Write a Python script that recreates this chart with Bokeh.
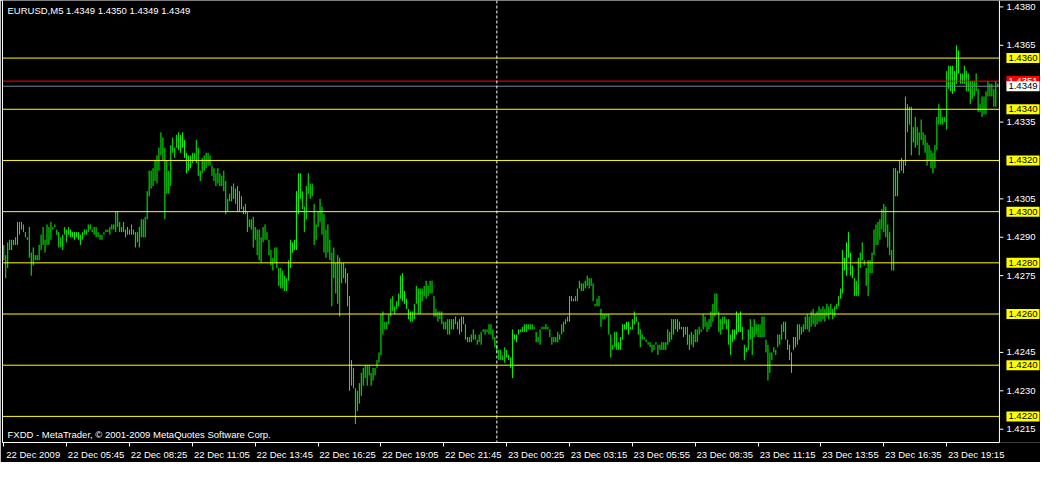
from bokeh.plotting import figure
from bokeh.models import (ColumnDataSource, Range1d, FixedTicker, Span, Label, LinearAxis)
from bokeh.core.properties import value
from bokeh.embed import file_html
from bokeh.resources import INLINE

symbol = "EURUSD,M5"
last_ohlc = [1.4349, 1.4350, 1.4349, 1.4349]
bid_price = 1.4349
ask_price = 1.4351
level_lines = [1.4360, 1.4340, 1.4320, 1.4300, 1.4280, 1.4260, 1.4240, 1.4220]
price_ticks = [1.4380, 1.4365, 1.4335, 1.4305, 1.4290, 1.4275, 1.4245, 1.4230, 1.4215]
time_label_bars = [0, 32, 64, 96, 128, 160, 192, 224, 256, 288, 320, 352, 384, 416, 448, 480]
time_labels = ["22 Dec 2009", "22 Dec 05:45", "22 Dec 08:25", "22 Dec 11:05", "22 Dec 13:45",
               "22 Dec 16:25", "22 Dec 19:05", "22 Dec 21:45", "23 Dec 00:25", "23 Dec 03:15",
               "23 Dec 05:55", "23 Dec 08:35", "23 Dec 11:15", "23 Dec 13:55", "23 Dec 16:35",
               "23 Dec 19:15"]
day_break_bar = 251
footer_text = "FXDD - MetaTrader, \u00a9 2001-2009 MetaQuotes Software Corp."

high = [
    1.4287, 1.4283, 1.4288, 1.4289, 1.4289, 1.4289, 1.4290, 1.4296, 1.4296, 1.4296,
    1.4295, 1.4292, 1.4290, 1.4294, 1.4284, 1.4286, 1.4283, 1.4283, 1.4287, 1.4291,
    1.4294, 1.4289, 1.4295, 1.4294, 1.4296, 1.4294, 1.4295, 1.4293, 1.4292, 1.4290,
    1.4291, 1.4294, 1.4293, 1.4294, 1.4293, 1.4292, 1.4292, 1.4292, 1.4292, 1.4291,
    1.4292, 1.4293, 1.4293, 1.4295, 1.4295, 1.4293, 1.4294, 1.4294, 1.4292, 1.4291,
    1.4291, 1.4292, 1.4293, 1.4293, 1.4294, 1.4295, 1.4295, 1.4300, 1.4300, 1.4296,
    1.4294, 1.4296, 1.4293, 1.4294, 1.4293, 1.4295, 1.4293, 1.4292, 1.4292, 1.4294,
    1.4297, 1.4297, 1.4298, 1.4308, 1.4316, 1.4316, 1.4317, 1.4320, 1.4322, 1.4325,
    1.4331, 1.4329, 1.4325, 1.4320, 1.4316, 1.4326, 1.4329, 1.4325, 1.4330, 1.4331,
    1.4330, 1.4331, 1.4328, 1.4323, 1.4322, 1.4322, 1.4323, 1.4323, 1.4328, 1.4325,
    1.4316, 1.4321, 1.4322, 1.4323, 1.4323, 1.4322, 1.4318, 1.4317, 1.4315, 1.4317,
    1.4315, 1.4314, 1.4316, 1.4312, 1.4305, 1.4307, 1.4310, 1.4311, 1.4309, 1.4310,
    1.4308, 1.4306, 1.4302, 1.4303, 1.4300, 1.4297, 1.4297, 1.4298, 1.4294, 1.4293,
    1.4293, 1.4290, 1.4294, 1.4295, 1.4292, 1.4289, 1.4285, 1.4282, 1.4286, 1.4286,
    1.4278, 1.4278, 1.4277, 1.4275, 1.4274, 1.4281, 1.4289, 1.4288, 1.4289, 1.4308,
    1.4315, 1.4315, 1.4308, 1.4302, 1.4310, 1.4315, 1.4311, 1.4311, 1.4303, 1.4295,
    1.4300, 1.4305, 1.4302, 1.4299, 1.4293, 1.4295, 1.4289, 1.4284, 1.4286, 1.4280,
    1.4283, 1.4282, 1.4280, 1.4280, 1.4278, 1.4276, 1.4267, 1.4242, 1.4239, 1.4231,
    1.4230, 1.4233, 1.4237, 1.4239, 1.4240, 1.4240, 1.4240, 1.4237, 1.4239, 1.4239,
    1.4242, 1.4245, 1.4260, 1.4261, 1.4257, 1.4257, 1.4260, 1.4266, 1.4267, 1.4263,
    1.4265, 1.4268, 1.4275, 1.4276, 1.4269, 1.4266, 1.4262, 1.4261, 1.4261, 1.4264,
    1.4271, 1.4270, 1.4270, 1.4270, 1.4271, 1.4273, 1.4271, 1.4273, 1.4273, 1.4267,
    1.4262, 1.4261, 1.4261, 1.4261, 1.4257, 1.4257, 1.4258, 1.4258, 1.4258, 1.4258,
    1.4259, 1.4257, 1.4258, 1.4259, 1.4259, 1.4256, 1.4251, 1.4251, 1.4252, 1.4254,
    1.4252, 1.4250, 1.4252, 1.4253, 1.4254, 1.4254, 1.4254, 1.4256, 1.4256, 1.4254,
    1.4251, 1.4248, 1.4246, 1.4246, 1.4244, 1.4247, 1.4246, 1.4244, 1.4243, 1.4254,
    1.4252, 1.4252, 1.4254, 1.4254, 1.4255, 1.4256, 1.4256, 1.4256, 1.4256, 1.4256,
    1.4255, 1.4253, 1.4251, 1.4254, 1.4255, 1.4255, 1.4256, 1.4255, 1.4254, 1.4251,
    1.4251, 1.4251, 1.4253, 1.4252, 1.4256, 1.4257, 1.4258, 1.4259, 1.4267, 1.4267,
    1.4266, 1.4267, 1.4270, 1.4273, 1.4272, 1.4272, 1.4273, 1.4275, 1.4274, 1.4274,
    1.4272, 1.4264, 1.4266, 1.4267, 1.4262, 1.4260, 1.4260, 1.4260, 1.4260, 1.4252,
    1.4248, 1.4253, 1.4253, 1.4249, 1.4251, 1.4256, 1.4256, 1.4257, 1.4257, 1.4255,
    1.4258, 1.4261, 1.4259, 1.4257, 1.4254, 1.4252, 1.4251, 1.4250, 1.4249, 1.4249,
    1.4248, 1.4248, 1.4249, 1.4248, 1.4248, 1.4249, 1.4249, 1.4249, 1.4254, 1.4253,
    1.4258, 1.4258, 1.4258, 1.4258, 1.4257, 1.4255, 1.4255, 1.4255, 1.4255, 1.4252,
    1.4253, 1.4252, 1.4254, 1.4254, 1.4255, 1.4254, 1.4260, 1.4259, 1.4257, 1.4258,
    1.4261, 1.4264, 1.4268, 1.4268, 1.4261, 1.4258, 1.4259, 1.4259, 1.4258, 1.4258,
    1.4252, 1.4254, 1.4254, 1.4261, 1.4260, 1.4261, 1.4255, 1.4248, 1.4247, 1.4254,
    1.4258, 1.4255, 1.4258, 1.4256, 1.4256, 1.4256, 1.4259, 1.4259, 1.4250, 1.4248,
    1.4245, 1.4245, 1.4247, 1.4246, 1.4252, 1.4252, 1.4256, 1.4257, 1.4257, 1.4250,
    1.4248, 1.4245, 1.4251, 1.4251, 1.4256, 1.4256, 1.4255, 1.4256, 1.4259, 1.4260,
    1.4259, 1.4261, 1.4262, 1.4260, 1.4261, 1.4263, 1.4262, 1.4263, 1.4262, 1.4264,
    1.4263, 1.4264, 1.4262, 1.4263, 1.4264, 1.4267, 1.4270, 1.4285, 1.4282, 1.4288,
    1.4292, 1.4284, 1.4279, 1.4274, 1.4273, 1.4282, 1.4284, 1.4288, 1.4281, 1.4278,
    1.4281, 1.4281, 1.4284, 1.4293, 1.4295, 1.4296, 1.4297, 1.4301, 1.4303, 1.4302,
    1.4295, 1.4292, 1.4285, 1.4317, 1.4317, 1.4316, 1.4320, 1.4321, 1.4320, 1.4345,
    1.4342, 1.4341, 1.4341, 1.4333, 1.4337, 1.4333, 1.4331, 1.4336, 1.4331, 1.4330,
    1.4327, 1.4326, 1.4324, 1.4323, 1.4326, 1.4337, 1.4342, 1.4340, 1.4337, 1.4337,
    1.4355, 1.4357, 1.4357, 1.4357, 1.4355, 1.4365, 1.4363, 1.4354, 1.4354, 1.4357,
    1.4355, 1.4354, 1.4351, 1.4351, 1.4351, 1.4354, 1.4348, 1.4342, 1.4345, 1.4345,
    1.4347, 1.4351, 1.4350, 1.4350, 1.4348, 1.4351, 1.4350,
]

low = [
    1.4281, 1.4274, 1.4278, 1.4285, 1.4285, 1.4287, 1.4287, 1.4287, 1.4291, 1.4293,
    1.4292, 1.4290, 1.4289, 1.4282, 1.4275, 1.4279, 1.4281, 1.4281, 1.4281, 1.4285,
    1.4287, 1.4284, 1.4287, 1.4287, 1.4289, 1.4293, 1.4294, 1.4291, 1.4286, 1.4286,
    1.4285, 1.4291, 1.4288, 1.4291, 1.4290, 1.4290, 1.4289, 1.4290, 1.4289, 1.4287,
    1.4289, 1.4291, 1.4291, 1.4292, 1.4293, 1.4292, 1.4291, 1.4290, 1.4290, 1.4289,
    1.4289, 1.4291, 1.4292, 1.4292, 1.4291, 1.4293, 1.4293, 1.4292, 1.4294, 1.4292,
    1.4292, 1.4292, 1.4290, 1.4291, 1.4291, 1.4291, 1.4291, 1.4286, 1.4288, 1.4286,
    1.4290, 1.4290, 1.4290, 1.4297, 1.4306, 1.4309, 1.4310, 1.4312, 1.4311, 1.4316,
    1.4322, 1.4320, 1.4297, 1.4307, 1.4307, 1.4310, 1.4323, 1.4321, 1.4325, 1.4324,
    1.4323, 1.4325, 1.4321, 1.4315, 1.4316, 1.4317, 1.4319, 1.4320, 1.4319, 1.4314,
    1.4312, 1.4315, 1.4316, 1.4317, 1.4318, 1.4318, 1.4314, 1.4312, 1.4310, 1.4311,
    1.4310, 1.4310, 1.4308, 1.4299, 1.4300, 1.4304, 1.4304, 1.4305, 1.4303, 1.4300,
    1.4300, 1.4301, 1.4299, 1.4299, 1.4292, 1.4294, 1.4293, 1.4286, 1.4289, 1.4283,
    1.4281, 1.4280, 1.4288, 1.4289, 1.4289, 1.4283, 1.4279, 1.4277, 1.4280, 1.4278,
    1.4271, 1.4270, 1.4270, 1.4269, 1.4269, 1.4273, 1.4278, 1.4284, 1.4285, 1.4285,
    1.4299, 1.4305, 1.4301, 1.4292, 1.4297, 1.4307, 1.4305, 1.4306, 1.4287, 1.4289,
    1.4294, 1.4296, 1.4291, 1.4284, 1.4282, 1.4284, 1.4281, 1.4263, 1.4274, 1.4268,
    1.4264, 1.4259, 1.4272, 1.4274, 1.4272, 1.4263, 1.4230, 1.4232, 1.4231, 1.4217,
    1.4222, 1.4225, 1.4228, 1.4232, 1.4235, 1.4232, 1.4236, 1.4232, 1.4234, 1.4236,
    1.4239, 1.4241, 1.4244, 1.4252, 1.4254, 1.4254, 1.4256, 1.4259, 1.4261, 1.4260,
    1.4262, 1.4263, 1.4266, 1.4265, 1.4264, 1.4262, 1.4258, 1.4257, 1.4257, 1.4258,
    1.4264, 1.4260, 1.4260, 1.4265, 1.4267, 1.4266, 1.4267, 1.4268, 1.4268, 1.4259,
    1.4259, 1.4257, 1.4258, 1.4256, 1.4254, 1.4254, 1.4252, 1.4252, 1.4254, 1.4254,
    1.4256, 1.4254, 1.4252, 1.4253, 1.4256, 1.4250, 1.4249, 1.4249, 1.4249, 1.4250,
    1.4250, 1.4248, 1.4249, 1.4248, 1.4253, 1.4252, 1.4253, 1.4252, 1.4252, 1.4250,
    1.4247, 1.4245, 1.4242, 1.4242, 1.4242, 1.4241, 1.4243, 1.4242, 1.4239, 1.4235,
    1.4250, 1.4249, 1.4252, 1.4253, 1.4253, 1.4253, 1.4253, 1.4254, 1.4254, 1.4254,
    1.4254, 1.4249, 1.4249, 1.4248, 1.4254, 1.4254, 1.4254, 1.4254, 1.4251, 1.4248,
    1.4249, 1.4249, 1.4249, 1.4250, 1.4252, 1.4253, 1.4256, 1.4257, 1.4257, 1.4265,
    1.4265, 1.4265, 1.4265, 1.4270, 1.4269, 1.4269, 1.4270, 1.4271, 1.4270, 1.4271,
    1.4265, 1.4263, 1.4263, 1.4263, 1.4255, 1.4258, 1.4258, 1.4259, 1.4252, 1.4243,
    1.4246, 1.4247, 1.4246, 1.4246, 1.4246, 1.4250, 1.4254, 1.4254, 1.4252, 1.4254,
    1.4254, 1.4256, 1.4257, 1.4252, 1.4247, 1.4250, 1.4250, 1.4249, 1.4248, 1.4247,
    1.4245, 1.4246, 1.4248, 1.4244, 1.4246, 1.4246, 1.4246, 1.4246, 1.4248, 1.4249,
    1.4250, 1.4252, 1.4254, 1.4253, 1.4254, 1.4254, 1.4251, 1.4252, 1.4248, 1.4246,
    1.4248, 1.4247, 1.4249, 1.4249, 1.4252, 1.4253, 1.4254, 1.4255, 1.4253, 1.4254,
    1.4255, 1.4257, 1.4259, 1.4260, 1.4253, 1.4252, 1.4254, 1.4256, 1.4254, 1.4248,
    1.4244, 1.4249, 1.4250, 1.4252, 1.4253, 1.4253, 1.4250, 1.4242, 1.4245, 1.4246,
    1.4250, 1.4244, 1.4251, 1.4252, 1.4251, 1.4251, 1.4251, 1.4251, 1.4245, 1.4234,
    1.4237, 1.4242, 1.4245, 1.4244, 1.4247, 1.4248, 1.4250, 1.4253, 1.4250, 1.4246,
    1.4242, 1.4237, 1.4246, 1.4247, 1.4248, 1.4250, 1.4252, 1.4253, 1.4254, 1.4254,
    1.4253, 1.4255, 1.4256, 1.4255, 1.4256, 1.4257, 1.4257, 1.4258, 1.4257, 1.4259,
    1.4258, 1.4260, 1.4258, 1.4259, 1.4262, 1.4263, 1.4266, 1.4268, 1.4277, 1.4275,
    1.4282, 1.4275, 1.4274, 1.4267, 1.4267, 1.4267, 1.4278, 1.4281, 1.4279, 1.4271,
    1.4267, 1.4276, 1.4276, 1.4283, 1.4287, 1.4287, 1.4289, 1.4293, 1.4292, 1.4290,
    1.4286, 1.4283, 1.4277, 1.4277, 1.4306, 1.4306, 1.4315, 1.4316, 1.4315, 1.4318,
    1.4331, 1.4334, 1.4322, 1.4327, 1.4325, 1.4326, 1.4322, 1.4328, 1.4326, 1.4323,
    1.4318, 1.4320, 1.4317, 1.4315, 1.4317, 1.4324, 1.4334, 1.4334, 1.4334, 1.4335,
    1.4332, 1.4348, 1.4347, 1.4346, 1.4347, 1.4350, 1.4354, 1.4350, 1.4350, 1.4350,
    1.4347, 1.4347, 1.4342, 1.4344, 1.4345, 1.4347, 1.4339, 1.4339, 1.4337, 1.4338,
    1.4338, 1.4345, 1.4345, 1.4345, 1.4341, 1.4341, 1.4349,
]

bar_index = list(range(len(high)))
src = ColumnDataSource(data=dict(i=bar_index, high=high, low=low))

FONT = "Liberation Sans"
FS = "9.5px"
BAR_COLOR = "#00ff00"
LABEL_SHIFT = 15      # bars: sets each time label just right of its tick
STRIP_BARS = 20.9     # width of the price-scale strip, in bar widths
TICK_LEN = 2.0        # price-scale tick length, in bar widths

x_start = -0.65
axis_x = len(high) - 0.15          # position of the price scale line
x_far = axis_x + STRIP_BARS
y_start, y_end = 1.42098, 1.43825

p = figure(width=1040, height=462, output_backend="svg", toolbar_location=None,
           x_range=Range1d(x_start, x_far), y_range=Range1d(y_start, y_end),
           y_axis_location=None,
           min_border_left=2, min_border_right=0, min_border_top=0, min_border_bottom=19,
           background_fill_color="black", border_fill_color="black")
p.outline_line_color = None
p.grid.visible = False

# left border of the chart
left_axis = LinearAxis(ticker=FixedTicker(ticks=[], minor_ticks=[]), axis_line_color="white",
                       major_tick_out=0, major_tick_in=0, major_label_standoff=0,
                       minor_tick_line_color=None, major_tick_line_color=None)
p.add_layout(left_axis, "left")

# price bars
p.segment(x0="i", y0="low", x1="i", y1="high", source=src, line_color=BAR_COLOR, line_width=1)

# horizontal levels, ask and bid lines (up to the price scale)
lv_src = ColumnDataSource(data=dict(y=level_lines))
p.segment(x0=x_start, x1=axis_x, y0="y", y1="y", source=lv_src, line_color="#ffff00", line_width=1)
p.segment(x0=[x_start], x1=[axis_x], y0=[ask_price], y1=[ask_price], line_color="#ff0000", line_width=1)
p.segment(x0=[x_start], x1=[axis_x], y0=[bid_price], y1=[bid_price], line_color="#778899", line_width=1)

# day separator
p.add_layout(Span(location=day_break_bar, dimension="height", line_color="white",
                  line_width=1, line_dash="3 2"))

# price scale
p.add_layout(Span(location=axis_x, dimension="height", line_color="white", line_width=1))
tk_src = ColumnDataSource(data=dict(y=price_ticks, label=[f"{t:.4f}" for t in price_ticks]))
p.segment(x0=axis_x, x1=axis_x + TICK_LEN, y0="y", y1="y", source=tk_src,
          line_color="white", line_width=1)
p.text(x=axis_x, y="y", text="label", source=tk_src, x_offset=7, text_align="left",
       text_baseline="middle", text_color="white", text_font=value(FONT),
       text_font_size=value(FS))

def price_tag(level, bg, fg):
    return Label(x=axis_x, y=level, x_offset=7, text=f"{level:.4f}", text_align="left",
                 text_baseline="middle", text_color=fg, text_font=FONT,
                 text_font_size=FS, background_fill_color=bg, padding=2)

for lv in level_lines:
    p.add_layout(price_tag(lv, "#ffff00", "black"))
p.add_layout(price_tag(ask_price, "#ff0000", "white"))
p.add_layout(price_tag(bid_price, "white", "black"))

# time axis: tick marks at the label bars
xa = p.xaxis[0]
xa.ticker = FixedTicker(ticks=time_label_bars, minor_ticks=[])
xa.major_label_overrides = {b: "" for b in time_label_bars}
xa.major_label_text_font_size = "1px"
xa.major_label_standoff = 0
xa.axis_line_color = "white"
xa.major_tick_line_color = "white"
xa.minor_tick_line_color = None
xa.major_tick_in = 0
xa.major_tick_out = 4
xa.bounds = (x_start, axis_x)

# time axis labels, set just right of each tick
shifted = [b + LABEL_SHIFT for b in time_label_bars]
xb = LinearAxis(ticker=FixedTicker(ticks=shifted, minor_ticks=[]),
                major_label_overrides={s: t for s, t in zip(shifted, time_labels)},
                axis_line_color=None, major_tick_line_color=None, minor_tick_line_color=None,
                major_tick_in=0, major_tick_out=0, major_label_standoff=2,
                major_label_text_color="white", major_label_text_font=FONT,
                major_label_text_font_size=FS)
p.add_layout(xb, "below")

title = symbol + "  " + " ".join(f"{v:.4f}" for v in last_ohlc)
p.add_layout(Label(x=x_start, y=y_end, x_offset=5, y_offset=-4, text=title,
                   text_align="left", text_baseline="top", text_color="white",
                   text_font=FONT, text_font_size=FS, level="overlay"))
p.add_layout(Label(x=x_start, y=y_start, x_offset=5, y_offset=3, text=footer_text,
                   text_align="left", text_baseline="bottom", text_color="white",
                   text_font=FONT, text_font_size=FS, level="overlay"))

open("out.html", "w").write(file_html(p, INLINE))
